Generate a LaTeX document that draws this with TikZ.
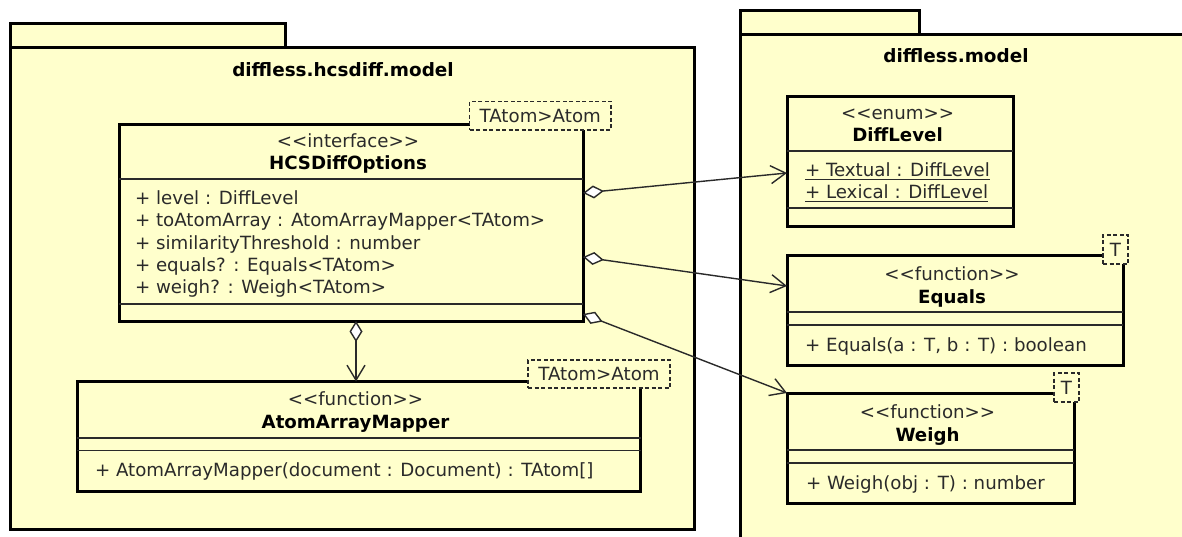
\documentclass[tikz,border=0pt]{standalone}
\usepackage{fontspec}
\setmainfont{DejaVu Sans}
\usetikzlibrary{arrows.meta,calc}
\definecolor{umlfill}{HTML}{FFFFCC}
\definecolor{ink}{HTML}{2A2A2A}
\newcommand{\umltext}{\fontsize{18.2}{22}\selectfont}
\newcommand{\umlbold}{\fontsize{18.2}{22}\selectfont\bfseries}
\newcommand{\umltitle}{\fontsize{18.4}{22}\selectfont\bfseries}
% stereotype brackets, kept apart so they are not joined into guillemets
\newcommand{\stereo}[1]{<{}<#1>{}>}

\begin{document}
\begin{tikzpicture}[x=1pt,y=-1pt,
  pkgbox/.style={draw=black,fill=umlfill,line width=3pt},
  classbox/.style={rectangle,draw=black,fill=umlfill,line width=3pt,inner sep=0pt,outer sep=0pt,anchor=north west},
  tmplbox/.style={rectangle,draw=ink,fill=umlfill,line width=1.1pt,dash pattern=on 4pt off 2.5pt,inner sep=0pt,outer sep=0pt,anchor=north west,font=\umltext,text=ink},
  sepline/.style={draw=ink,line width=1.2pt},
  lbl/.style={inner sep=0pt,outer sep=0pt,anchor=base,font=\umltext,text=ink},
  member/.style={lbl,anchor=base west},
  cname/.style={lbl,font=\umlbold,text=black},
  ptitle/.style={lbl,font=\umltitle,text=black},
  uline/.style={draw=ink,line width=1pt},
  assoc/.style={draw=ink,line width=1.4pt,
    {Diamond[length=21pt,width=13pt,fill=white,line width=1.4pt]}-{Straight Barb[length=15pt,width=18pt]}}
]
\useasboundingbox (0,0) rectangle (1182,537);

% packages
\path[pkgbox] (10,24) rectangle (285,48);
\path[pkgbox] (10,48) rectangle (694,529);
\node[ptitle] (lpkgtitle) at (343,77) {diffless.hcsdiff.model};

\path[pkgbox] (740,11) rectangle (919,35);
\path[pkgbox] (740,35) rectangle (1200,560);
\node[ptitle] (rpkgtitle) at (956,63) {diffless.model};

% HCSDiffOptions
\node[classbox,minimum width=464pt,minimum height=196.5pt] (hcs) at (119,124.5) {};
\node[lbl] (hcsst) at (348,148) {\stereo{interface}};
\node[cname] (hcsnm) at (348,170) {HCSDiffOptions};
\draw[sepline] ($(hcs.north west)+(0,54.5)$) -- ($(hcs.north east)+(0,54.5)$);
\node[member] (hcsa1) at (135,205) {+ level : DiffLevel};
\node[member] (hcsa2) at (135,227) {+ toAtomArray : AtomArrayMapper<TAtom>};
\node[member] (hcsa3) at (135,249) {+ similarityThreshold : number};
\node[member] (hcsa4) at (135,271) {+ equals? : Equals<TAtom>};
\node[member] (hcsa5) at (135,293) {+ weigh? : Weigh<TAtom>};
\draw[sepline] ($(hcs.north west)+(0,179.5)$) -- ($(hcs.north east)+(0,179.5)$);
\node[tmplbox,minimum width=141.5pt,minimum height=28.5pt] (hcstp) at (469.5,101.5) {TAtom>Atom};

% AtomArrayMapper
\node[classbox,minimum width=563.5pt,minimum height=109.5pt] (aam) at (77,381.5) {};
\node[lbl] (aamst) at (355.5,405) {\stereo{function}};
\node[cname] (aamnm) at (355.5,428) {AtomArrayMapper};
\draw[sepline] ($(aam.north west)+(0,56.5)$) -- ($(aam.north east)+(0,56.5)$);
\draw[sepline] ($(aam.north west)+(0,69)$) -- ($(aam.north east)+(0,69)$);
\node[member] (aamm1) at (95,476) {+ AtomArrayMapper(document : Document) : TAtom[]};
\node[tmplbox,minimum width=142pt,minimum height=28pt] (aamtp) at (528,360) {TAtom>Atom};

% DiffLevel
\node[classbox,minimum width=226pt,minimum height=129.5pt] (dl) at (787,97) {};
\node[lbl] (dlst) at (897.5,120) {\stereo{enum}};
\node[cname] (dlnm) at (897.5,141.5) {DiffLevel};
\draw[sepline] ($(dl.north west)+(0,54)$) -- ($(dl.north east)+(0,54)$);
\node[member] (dla1) at (805,177) {+ Textual : DiffLevel};
\node[member] (dla2) at (805,198.5) {+ Lexical : DiffLevel};
\draw[uline] ([yshift=-3pt]dla1.base west) -- ([yshift=-3pt]dla1.base east);
\draw[uline] ([yshift=-3pt]dla2.base west) -- ([yshift=-3pt]dla2.base east);
\draw[sepline] ($(dl.north west)+(0,111)$) -- ($(dl.north east)+(0,111)$);

% Equals
\node[classbox,minimum width=336pt,minimum height=110pt] (eq) at (787,255) {};
\node[lbl] (eqst) at (952,280) {\stereo{function}};
\node[cname] (eqnm) at (952,303) {Equals};
\draw[sepline] ($(eq.north west)+(0,57)$) -- ($(eq.north east)+(0,57)$);
\draw[sepline] ($(eq.north west)+(0,70)$) -- ($(eq.north east)+(0,70)$);
\node[member] (eqm1) at (805,351) {+ Equals(a : T, b : T) : boolean};
\node[tmplbox,minimum width=25pt,minimum height=29pt] (eqtp) at (1103,235) {T};

% Weigh
\node[classbox,minimum width=287pt,minimum height=110pt] (wg) at (787,393) {};
\node[lbl] (wgst) at (927.5,418) {\stereo{function}};
\node[cname] (wgnm) at (927.5,441) {Weigh};
\draw[sepline] ($(wg.north west)+(0,57)$) -- ($(wg.north east)+(0,57)$);
\draw[sepline] ($(wg.north west)+(0,70)$) -- ($(wg.north east)+(0,70)$);
\node[member] (wgm1) at (806,489) {+ Weigh(obj : T) : number};
\node[tmplbox,minimum width=25pt,minimum height=29pt] (wgtp) at (1054,373) {T};

% aggregations
\draw[assoc] ([yshift=-68.5pt]hcs.north east) -- ([yshift=-76pt]dl.north west);
\draw[assoc] ([yshift=-132.5pt]hcs.north east) -- ([yshift=-31pt]eq.north west);
\draw[assoc] ([yshift=7pt]hcs.south east) -- (wg.north west);
\coordinate (aggsrc) at ([xshift=5pt]hcs.south);
\draw[assoc] (aggsrc) -- (aggsrc |- aam.north);
\end{tikzpicture}
\end{document}
